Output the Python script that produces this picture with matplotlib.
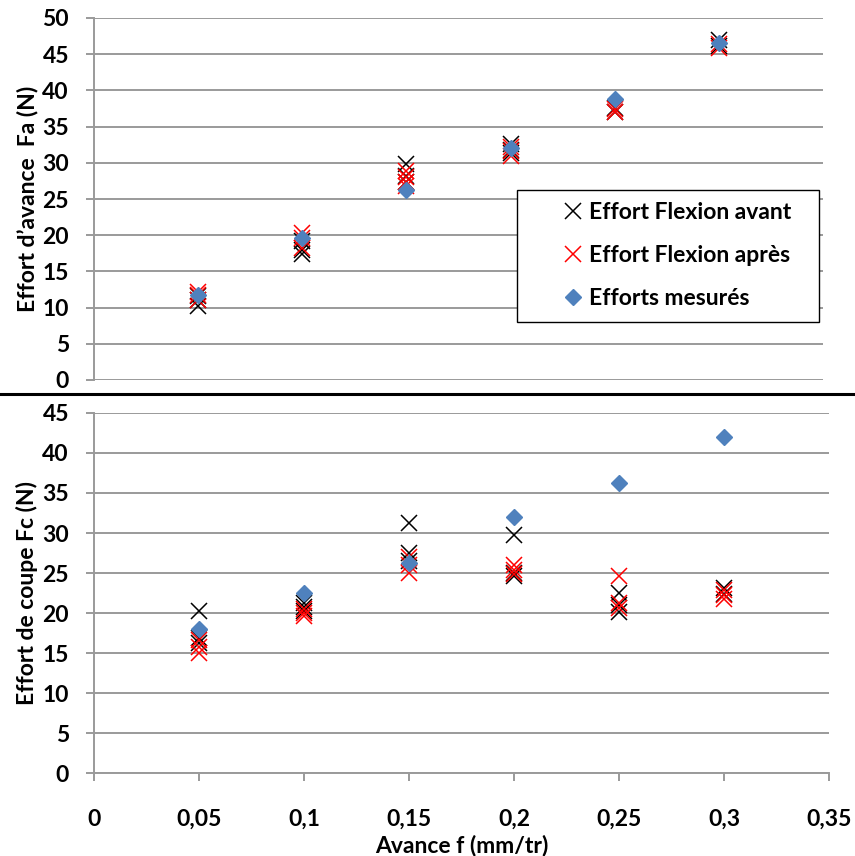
import matplotlib
matplotlib.use("Agg")
import matplotlib.pyplot as plt
from matplotlib.lines import Line2D
from matplotlib.patches import Rectangle

plt.rcParams['font.family'] = ['Lato', 'DejaVu Sans']
plt.rcParams['font.weight'] = 'bold'
plt.rcParams['axes.labelweight'] = 'bold'

# --- data ---
# effort d'avance Fa (top panel)
fa_avant_x = [0.05, 0.05, 0.05, 0.1, 0.1, 0.1, 0.15, 0.15, 0.15, 0.2, 0.2, 0.2, 0.25, 0.25, 0.3, 0.3]
fa_avant_y = [10.2, 11.0, 11.6, 17.4, 18.0, 19.2, 29.8, 28.2, 27.3, 32.6, 31.8, 31.4, 37.0, 37.6, 46.9, 46.2]
fa_apres_x = [0.05, 0.05, 0.05, 0.1, 0.1, 0.1, 0.15, 0.15, 0.15, 0.15, 0.2, 0.2, 0.2, 0.25, 0.25, 0.3, 0.3]
fa_apres_y = [11.0, 11.8, 12.2, 18.3, 19.6, 20.3, 28.9, 28.0, 27.4, 26.8, 31.0, 31.6, 32.2, 37.0, 37.4, 45.9, 46.4]
fa_mes_x = [0.05, 0.1, 0.15, 0.2, 0.25, 0.3]
fa_mes_y = [11.8, 19.6, 26.3, 32.0, 38.8, 46.5]

# effort de coupe Fc (bottom panel)
fc_avant_x = [0.05, 0.05, 0.05, 0.1, 0.1, 0.1, 0.15, 0.15, 0.15, 0.2, 0.2, 0.2, 0.25, 0.25, 0.25, 0.3, 0.3]
fc_avant_y = [20.2, 16.9, 16.2, 21.2, 20.7, 20.2, 31.2, 27.5, 26.5, 29.8, 25.0, 24.6, 22.5, 21.0, 20.1, 23.1, 22.4]
fc_apres_x = [0.05, 0.05, 0.05, 0.1, 0.1, 0.1, 0.15, 0.15, 0.15, 0.2, 0.2, 0.2, 0.25, 0.25, 0.25, 0.3, 0.3, 0.3]
fc_apres_y = [16.6, 15.8, 15.0, 20.5, 20.0, 19.6, 27.0, 26.0, 25.0, 26.0, 25.4, 24.9, 24.6, 21.3, 20.6, 22.9, 22.2, 21.7]
fc_mes_x = [0.05, 0.1, 0.15, 0.2, 0.25, 0.3]
fc_mes_y = [18.0, 22.5, 26.2, 32.0, 36.3, 42.0]

labels = ["Effort Flexion avant", "Effort Flexion après", "Efforts mesurés"]
xticks = [0, 0.05, 0.1, 0.15, 0.2, 0.25, 0.3, 0.35]
xticklabels = ["0", "0,05", "0,1", "0,15", "0,2", "0,25", "0,3", "0,35"]

blue = "#4F81BD"
grid_c = "#9a9a9a"
fs = 16.5

W, H = 855, 856
fig = plt.figure(figsize=(W / 100, H / 100), dpi=100)


def box(l, t, r, b):
    return [l / W, 1 - b / H, (r - l) / W, (b - t) / H]


def style(ax, ymax):
    ax.set_ylim(0, ymax)
    yt = list(range(0, ymax + 1, 5))
    ax.set_yticks(yt, labels=[str(v) for v in yt], fontweight="bold", fontsize=fs)
    ax.yaxis.grid(True, color=grid_c, lw=1.4)
    ax.set_axisbelow(True)
    for s in ["top", "right"]:
        ax.spines[s].set_visible(False)
    ax.spines["left"].set_color(grid_c)
    ax.spines["left"].set_linewidth(1.4)
    ax.tick_params(axis="y", colors=grid_c, length=6, width=1.4, pad=12,
                   labelcolor="black")


def draw(ax, ax_x, ay, bx, by, mx, my):
    ax.plot(ax_x, ay, "x", color="black", ms=11, mew=1.1, ls="none", label=labels[0])
    ax.plot(bx, by, "x", color="red", ms=11, mew=1.1, ls="none", label=labels[1])
    ax.plot(mx, my, "D", color=blue, ms=8.5, ls="none", label=labels[2])


# top panel
ax1 = fig.add_axes(box(94, 18, 823, 380))
draw(ax1, fa_avant_x, fa_avant_y, fa_apres_x, fa_apres_y, fa_mes_x, fa_mes_y)
style(ax1, 50)
ax1.set_xlim(0, 0.35)
ax1.spines["bottom"].set_visible(False)
ax1.set_xticks([])
ax1.set_ylabel("Effort d’avance  Fa (N)", fontsize=fs, fontweight="bold")
ax1.yaxis.set_label_coords((38 - 94) / 729, 0.5)

# legend with a hand drawn frame
lx0, lx1 = (517 - 94) / 729, (819 - 94) / 729
ly0, ly1 = (380 - 322) / 362, (380 - 190) / 362
ax1.add_patch(Rectangle((lx0, ly0), lx1 - lx0, ly1 - ly0, transform=ax1.transAxes,
                        fill=True, fc="white", ec="black", lw=1.0, zorder=5))
leg = ax1.legend(loc="upper left", bbox_to_anchor=((563 - 94) / 729, (380 - 202) / 362),
                 frameon=False, prop={"size": fs, "weight": "bold"}, handlelength=0.9,
                 handletextpad=0.25, labelspacing=0.95, borderpad=0, borderaxespad=0)
leg.set_zorder(6)

# bottom panel
ax2 = fig.add_axes(box(94, 413, 829, 773))
draw(ax2, fc_avant_x, fc_avant_y, fc_apres_x, fc_apres_y, fc_mes_x, fc_mes_y)
style(ax2, 45)
ax2.set_xlim(0, 0.35)
ax2.set_xticks(xticks, labels=xticklabels, fontweight="bold", fontsize=fs)
ax2.spines["bottom"].set_color(grid_c)
ax2.spines["bottom"].set_linewidth(1.4)
ax2.tick_params(axis="x", colors=grid_c, length=6, width=1.4, pad=20,
                labelcolor="black")
ax2.set_ylabel("Effort de coupe Fc (N)", fontsize=fs, fontweight="bold")
ax2.yaxis.set_label_coords((38 - 94) / 735, 0.5)
ax2.set_xlabel("Avance f (mm/tr)", fontsize=fs, fontweight="bold", labelpad=3)

# thick separator between the two charts
fig.add_artist(Line2D([0, 1], [1 - 394 / H, 1 - 394 / H], color="black", lw=2.2))

fig.savefig("out.png", dpi=100)
